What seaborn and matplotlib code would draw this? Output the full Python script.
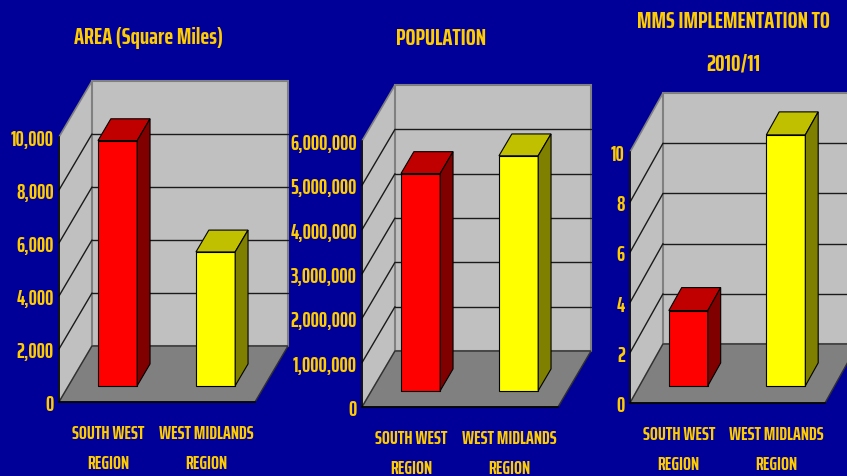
import numpy as np
import pandas as pd
import seaborn as sns
import matplotlib
matplotlib.use("Agg")
import matplotlib.pyplot as plt
from matplotlib import font_manager as fm
from matplotlib.patches import Polygon
from matplotlib.ticker import FuncFormatter

# ---------------- data ----------------
categories = ["SOUTH WEST\nREGION", "WEST MIDLANDS\nREGION"]
area_sq_miles = [9250, 5050]
population = [4900000, 5300000]
mms_implementation = [3, 10]

titles = ["AREA (Square Miles)", "POPULATION", "MMS IMPLEMENTATION TO\n2010/11"]
area_ticks = [0, 2000, 4000, 6000, 8000, 10000]
pop_ticks = [0, 1000000, 2000000, 3000000, 4000000, 5000000, 6000000]
mms_ticks = [0, 2, 4, 6, 8, 10]

# ---------------- style ----------------
BG = "#000099"
GOLD = "#FFCC00"
WALL = "#C0C0C0"
FLOOR = "#808080"
EDGE_GRAY = "#808080"
bar_front = ["#FF0000", "#FFFF00"]
bar_top = ["#C00000", "#C0C000"]
bar_side = ["#800000", "#808000"]

sns.set_style("white")
names = {f.name for f in fm.fontManager.ttflist}
FAM = ["DejaVu Sans"]
for cand in ["Saira ExtraCondensed", "Barlow Condensed", "Roboto Condensed"]:
    if cand in names:
        FAM = [cand, "DejaVu Sans"]
        break
plt.rcParams["font.family"] = FAM

W, H = 847, 477
fig = plt.figure(figsize=(W / 100, H / 100), dpi=100)
fig.patch.set_facecolor(BG)
renderer = fig.canvas.get_renderer()


def fit_size(text, target_px, ref=20.0):
    t = fig.text(0, 0, text, fontsize=ref, fontweight="bold")
    w = t.get_window_extent(renderer).width
    t.remove()
    return ref * target_px / w


TICK_FS = fit_size("6,000,000", 67)
XLAB_FS = fit_size("WEST MIDLANDS", 83) * 1.15
TITLE_FS = fit_size("AREA (Square Miles)", 136) * 1.1

panels = [
    dict(vals=area_sq_miles, ticks=area_ticks, l=59, r=255, y0=403, yt=138, dx=33, dy=56),
    dict(vals=population, ticks=pop_ticks, l=362, r=558, y0=408, yt=142, dx=33, dy=56),
    dict(vals=mms_implementation, ticks=mms_ticks, l=630, r=825, y0=404, yt=153, dx=33, dy=59),
]

F0 = 0.29
BD = 0.39

for P in panels:
    ax = fig.add_axes([P["l"] / W, (H - P["y0"]) / H, (P["r"] - P["l"]) / W, (P["y0"] - P["yt"]) / H])
    ax.patch.set_visible(False)
    ymax = P["ticks"][-1]
    xl, xr = -0.5, 1.5
    ddx = P["dx"] * (xr - xl) / (P["r"] - P["l"])
    ddy = P["dy"] * ymax / (P["y0"] - P["yt"])

    df = pd.DataFrame({"cat": categories, "val": P["vals"]})
    sns.barplot(data=df, x="cat", y="val", hue="cat", palette=bar_front, legend=False, saturation=1,
                width=0.4, edgecolor="black", linewidth=0.8, ax=ax, zorder=3)
    ax.set_xlim(xl, xr)
    ax.set_ylim(0, ymax)

    lw_poly = Polygon([(xl, 0), (xl + ddx, ddy), (xl + ddx, ymax + ddy), (xl, ymax)],
                      closed=True, fc=WALL, ec=EDGE_GRAY, lw=1.2, zorder=0.5, clip_on=False)
    bw_poly = Polygon([(xl + ddx, ddy), (xr + ddx, ddy), (xr + ddx, ymax + ddy), (xl + ddx, ymax + ddy)],
                      closed=True, fc=WALL, ec=EDGE_GRAY, lw=1.5, zorder=0.5, clip_on=False)
    fl_poly = Polygon([(xl, 0), (xr, 0), (xr + ddx, ddy), (xl + ddx, ddy)],
                      closed=True, fc=FLOOR, ec="#303030", lw=1.0, zorder=0.6, clip_on=False)
    for pg in (lw_poly, bw_poly, fl_poly):
        ax.add_patch(pg)
    for t in P["ticks"][1:-1]:
        ax.plot([xl + ddx, xr + ddx], [t + ddy, t + ddy], color="#1a1a1a", lw=1.0, zorder=0.7, clip_on=False)
        ax.plot([xl, xl + ddx], [t, t + ddy], color="#1a1a1a", lw=1.0, zorder=0.7, clip_on=False)

    bars = [pp for pp in ax.patches if pp.get_zorder() == 3]
    for i, p in enumerate(bars):
        x0 = p.get_x() + F0 * ddx
        y0 = F0 * ddy
        w = p.get_width()
        h = p.get_height()
        p.set_x(x0)
        p.set_y(y0)
        p.set_clip_on(False)
        top = Polygon([(x0, y0 + h), (x0 + w, y0 + h), (x0 + w + BD * ddx, y0 + h + BD * ddy),
                       (x0 + BD * ddx, y0 + h + BD * ddy)], closed=True, fc=bar_top[i], ec="black",
                      lw=0.8, zorder=3, clip_on=False)
        side = Polygon([(x0 + w, y0), (x0 + w + BD * ddx, y0 + BD * ddy), (x0 + w + BD * ddx, y0 + h + BD * ddy),
                        (x0 + w, y0 + h)], closed=True, fc=bar_side[i], ec="black", lw=0.8, zorder=3, clip_on=False)
        ax.add_patch(top)
        ax.add_patch(side)

    for s in ("top", "right"):
        ax.spines[s].set_visible(False)
    for s in ("left", "bottom"):
        ax.spines[s].set_color("black")
        ax.spines[s].set_linewidth(1.2)
        ax.spines[s].set_zorder(2.5)
    ax.set_yticks(P["ticks"])
    ax.yaxis.set_major_formatter(FuncFormatter(lambda v, pos: f"{int(v):,}"))
    ax.tick_params(axis="y", direction="out", length=2.5, width=1, color="black", pad=1.2,
                   labelcolor=GOLD, labelsize=TICK_FS)
    for lab in ax.get_yticklabels():
        lab.set_fontweight("bold")
        lab.set_verticalalignment("center_baseline")
    ax.set_xticks([-0.5, 0.5, 1.5])
    ax.set_xticklabels([])
    ax.set_xticks([0, 1], categories, minor=True)
    ax.tick_params(axis="x", which="major", direction="out", length=4, width=1, color="black")
    ax.tick_params(axis="x", which="minor", length=0, pad=16, labelcolor=GOLD, labelsize=XLAB_FS)
    for lab in ax.get_xticklabels(minor=True):
        lab.set_fontweight("bold")
        lab.set_linespacing(1.87)
        lab.set_multialignment("center")
    ax.set_xlabel("")
    ax.set_ylabel("")

tkw = dict(color=GOLD, fontweight="bold", ha="center", va="center", fontsize=TITLE_FS)
fig.text(149 / W, 1 - 38 / H, titles[0], **tkw)
fig.text(441 / W, 1 - 39 / H, titles[1], **tkw)
t1, t2 = titles[2].split("\n")
fig.text(733 / W, 1 - 22 / H, t1, **tkw)
fig.text(733 / W, 1 - 64 / H, t2, **tkw)

fig.savefig("out.png", dpi=100, facecolor=BG)
